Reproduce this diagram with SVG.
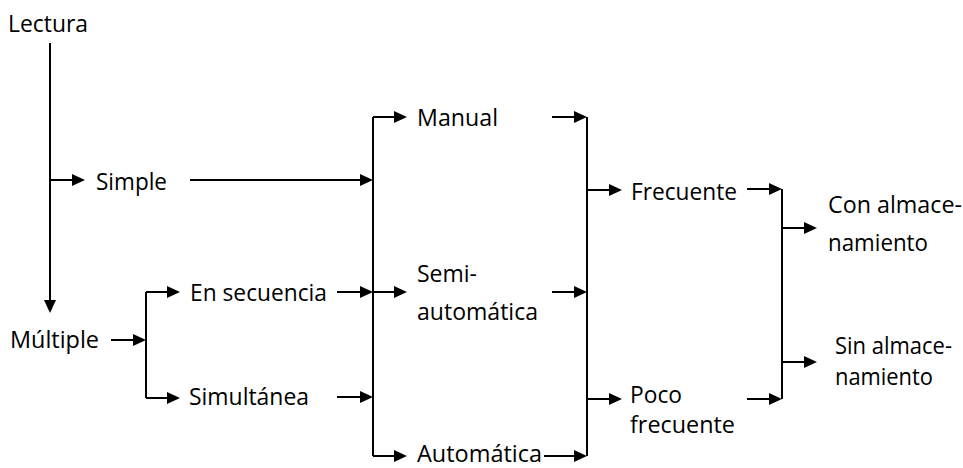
<svg xmlns="http://www.w3.org/2000/svg" width="963" height="468" viewBox="0 0 963 468">
<style>
text{font-family:"Open Sans","Noto Sans","Liberation Sans",sans-serif;font-size:23px;fill:#000}
.c path{fill:none;stroke:#000;stroke-width:2}
.a{marker-end:url(#ah)}
</style>
<defs>
<marker id="ah" viewBox="0 0 13 12" refX="9" refY="6" markerWidth="13" markerHeight="12" markerUnits="userSpaceOnUse" orient="auto"><path d="M0,0 L13,6 L0,12 z" fill="#000"/></marker>
</defs>
<rect width="963" height="468" fill="#fff"/>
<g id="connectors" class="c">
<path class="a" d="M50,43 V309"/>
<path class="a" d="M50,180 H81"/>
<path class="a" d="M190,180 H369"/>
<path d="M373,117 V456"/>
<path class="a" d="M373,117 H403"/>
<path class="a" d="M373,456 H403"/>
<path class="a" d="M337,292 H369"/>
<path class="a" d="M373,292 H403"/>
<path class="a" d="M337,397 H369"/>
<path class="a" d="M111,340 H142"/>
<path d="M146,292 V398"/>
<path class="a" d="M146,292 H176"/>
<path class="a" d="M146,398 H176"/>
<path d="M587,117 V456"/>
<path class="a" d="M552,117 H583"/>
<path class="a" d="M552,292 H583"/>
<path class="a" d="M544,456 H583"/>
<path class="a" d="M587,190 H618"/>
<path class="a" d="M587,399 H618"/>
<path d="M782,189 V399"/>
<path class="a" d="M747,189 H778"/>
<path class="a" d="M747,399 H778"/>
<path class="a" d="M782,228 H813"/>
<path class="a" d="M782,362 H813"/>
</g>
<g id="lectura"><text x="8" y="32" textLength="80" lengthAdjust="spacingAndGlyphs">Lectura</text></g>
<g id="simple"><text x="96" y="190" textLength="71" lengthAdjust="spacingAndGlyphs">Simple</text></g>
<g id="multiple"><text x="10" y="348" textLength="89" lengthAdjust="spacingAndGlyphs">Múltiple</text></g>
<g id="en-secuencia"><text x="190" y="301" textLength="137" lengthAdjust="spacingAndGlyphs">En secuencia</text></g>
<g id="simultanea"><text x="189" y="405" textLength="120" lengthAdjust="spacingAndGlyphs">Simultánea</text></g>
<g id="manual"><text x="417" y="126" textLength="81" lengthAdjust="spacingAndGlyphs">Manual</text></g>
<g id="semiautomatica"><text x="417" y="282" textLength="60" lengthAdjust="spacingAndGlyphs">Semi-</text><text x="417" y="320" textLength="121" lengthAdjust="spacingAndGlyphs">automática</text></g>
<g id="automatica"><text x="417" y="462" textLength="125" lengthAdjust="spacingAndGlyphs">Automática</text></g>
<g id="frecuente"><text x="631" y="200" textLength="106" lengthAdjust="spacingAndGlyphs">Frecuente</text></g>
<g id="poco-frecuente"><text x="630" y="403" textLength="52" lengthAdjust="spacingAndGlyphs">Poco</text><text x="630" y="433" textLength="105" lengthAdjust="spacingAndGlyphs">frecuente</text></g>
<g id="con-almacenamiento"><text x="828" y="213" textLength="134" lengthAdjust="spacingAndGlyphs">Con almace-</text><text x="828" y="251" textLength="100" lengthAdjust="spacingAndGlyphs">namiento</text></g>
<g id="sin-almacenamiento"><text x="835" y="354" textLength="117" lengthAdjust="spacingAndGlyphs">Sin almace-</text><text x="835" y="385" textLength="98" lengthAdjust="spacingAndGlyphs">namiento</text></g>
</svg>
